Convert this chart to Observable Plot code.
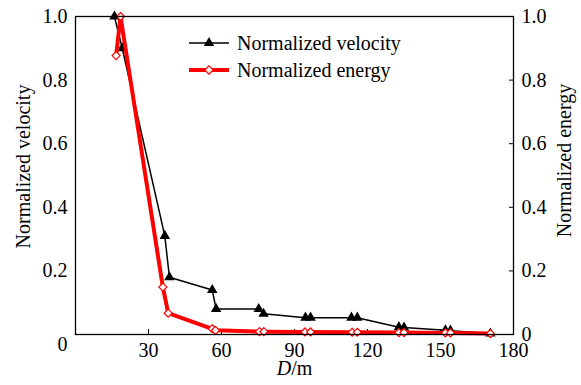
<!DOCTYPE html>
<html><head><meta charset="utf-8">
<script src="https://cdn.jsdelivr.net/npm/d3@7"></script>
<script src="https://cdn.jsdelivr.net/npm/@observablehq/plot@0.6"></script>
<style>
body{margin:0;background:#fff;}
#wrap{position:relative;width:581px;height:385px;}
#legend{position:absolute;left:185px;top:28px;}
</style></head><body><div id="wrap"></div>
<script>
// Normalized velocity (black triangles)
const velD = [16.0, 19.2, 36.7, 38.6, 56.2, 57.8, 75.3, 77.3, 94.5, 96.6, 113.4, 115.8, 132.9, 135.0, 152.0, 154.1, 170.5];
const velV = [1.0, 0.90, 0.31, 0.18, 0.14, 0.08, 0.08, 0.065, 0.053, 0.053, 0.053, 0.053, 0.023, 0.022, 0.013, 0.012, 0.003];
// Normalized energy (red open diamonds)
const enD = [16.7, 18.5, 35.9, 38.1, 56.2, 57.5, 75.6, 77.4, 94.3, 96.6, 113.7, 115.8, 132.9, 135.0, 152.0, 154.1, 170.5];
const enE = [0.877, 1.0, 0.149, 0.067, 0.018, 0.013, 0.009, 0.009, 0.008, 0.008, 0.007, 0.007, 0.006, 0.006, 0.005, 0.005, 0.003];
const xTicks = [0, 30, 60, 90, 120, 150, 180];
const yTicks = [0, 0.2, 0.4, 0.6, 0.8, 1.0];
const seriesNames = ["Normalized velocity", "Normalized energy"];
const xTitle = "D/m";

const FONT = "Liberation Serif, DejaVu Serif";
const vel = velD.map((d, i) => ({D: d, v: velV[i]}));
const en = enD.map((d, i) => ({D: d, e: enE[i]}));
const fmt = d => d === 0 ? "0" : d3.format(".1f")(d);

const plot = Plot.plot({
  width: 581, height: 385,
  marginLeft: 75, marginRight: 68, marginTop: 16, marginBottom: 51,
  style: {fontFamily: FONT, fontSize: "20px", color: "black", background: "white", overflow: "visible"},
  x: {domain: [0, 180]},
  y: {domain: [0, 1]},
  marks: [
    Plot.axisX(xTicks.filter(t => t > 0), {tickSize: -5, tickPadding: 13, tickFormat: d => String(d), label: null, fontFamily: FONT}),
    Plot.text([0], {x: d => d, frameAnchor: "bottom", dy: 16, dx: -13, text: d => "0", fontSize: 20, fontFamily: FONT}),
    Plot.axisY(yTicks.filter(t => t > 0), {anchor: "left", tickSize: 0, tickPadding: 8, tickFormat: fmt, label: null, fontFamily: FONT}),
    Plot.axisY(yTicks, {anchor: "right", tickSize: -5, tickPadding: 13, tickFormat: fmt, label: null, fontFamily: FONT}),
    Plot.text([seriesNames[0]], {frameAnchor: "left", textAnchor: "middle", rotate: -90, dx: -52, dy: -9, text: d => d, fontSize: 20, fontFamily: FONT}),
    Plot.text([seriesNames[1]], {frameAnchor: "right", textAnchor: "middle", rotate: -90, dx: 51, dy: -15, text: d => d, fontSize: 20, fontFamily: FONT}),
    Plot.text([xTitle], {frameAnchor: "bottom", dy: 40, text: d => d, fontSize: 20, fontFamily: FONT, className: "xtitle"}),
    Plot.line(vel, {x: "D", y: "v", stroke: "black", strokeWidth: 1.5}),
    Plot.dot(vel, {x: "D", y: "v", symbol: "triangle", r: 3.9, fill: "black"}),
    Plot.line(en, {x: "D", y: "e", stroke: "#ff0000", strokeWidth: 4}),
    Plot.dot(en, {x: "D", y: "e", symbol: "diamond2", r: 3.6, stroke: "#ff0000", fill: "white", strokeWidth: 1.2}),
    Plot.frame({stroke: "black", strokeWidth: 1.3})
  ]
});
document.getElementById("wrap").appendChild(plot);
// italic D in x title
plot.querySelectorAll("g.xtitle text").forEach(t => {
  t.innerHTML = '<tspan font-style="italic">D</tspan>/m';
});

// legend overlay
const ns = "http://www.w3.org/2000/svg";
const lg = document.createElementNS(ns, "svg");
lg.setAttribute("id", "legend");
lg.setAttribute("width", 240); lg.setAttribute("height", 60);
lg.innerHTML = `
<g font-size="20" font-family="${FONT}" fill="black">
  <line x1="4" y1="15" x2="44" y2="15" stroke="black" stroke-width="1.5"/>
  <path transform="translate(24,15)" d="${d3.symbol(d3.symbolTriangle, Math.PI*3.9*3.9)()}" fill="black"/>
  <text x="52" y="15" dy="0.35em">${seriesNames[0]}</text>
  <line x1="4" y1="42" x2="44" y2="42" stroke="#ff0000" stroke-width="4"/>
  <path transform="translate(24,42)" d="M0,-4.2L4.2,0L0,4.2L-4.2,0Z" fill="white" stroke="#ff0000" stroke-width="1.2"/>
  <text x="52" y="42" dy="0.35em">${seriesNames[1]}</text>
</g>`;
document.getElementById("wrap").appendChild(lg);
</script>
</body></html>
